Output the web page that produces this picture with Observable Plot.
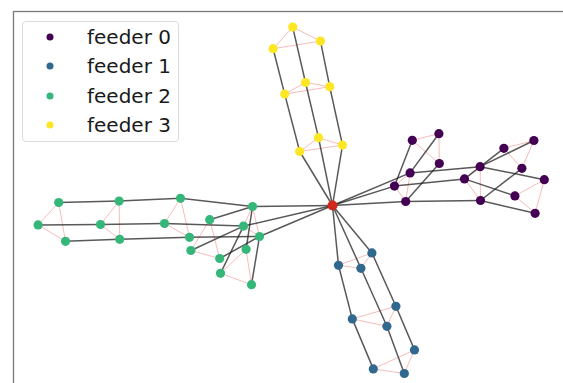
<!DOCTYPE html>
<html>
<head>
<meta charset="utf-8">
<script src="https://cdn.jsdelivr.net/npm/d3@7"></script>
<script src="https://cdn.jsdelivr.net/npm/@observablehq/plot@0.6"></script>
<style>
  html, body { margin: 0; padding: 0; background: white; }
  #wrap { position: relative; width: 563px; height: 383px; overflow: hidden; }
  #legend {
    position: absolute; left: 22px; top: 21px; width: 157px; height: 121px;
    box-sizing: border-box; border: 1px solid #dcdcdc; border-radius: 4px;
    background: rgba(255,255,255,0.85);
    font-family: "DejaVu Sans", sans-serif; font-size: 20px; color: #1a1a1a;
  }
  .row { position: absolute; left: 0; height: 28px; display: flex; align-items: center; }
  .row svg { margin-left: 23px; }
  .row span { margin-left: 33px; }
</style>
</head>
<body>
<div id="wrap"><div id="legend"></div></div>
<script>
// ---- data ----
const feeders = ["feeder 0", "feeder 1", "feeder 2", "feeder 3"];
const feederColors = ["#440154", "#31688e", "#35b779", "#fde725"];

const nodeNames = [
  "s",
  "p1a","p1b","p1c","p2a","p2b","p2c","p3a","p3b","p3c","p4a","p4b","p4c","p5a","p5b","p5c",
  "b1a","b1b","b1c","b2a","b2b","b2c","b3a","b3b","b3c",
  "g1a","g1b","g1c","g2a","g2b","g2c","g3a","g3b","g3c","g4a","g4b","g4c","g5a","g5b","g5c","g6a","g6b","g6c",
  "y1a","y1b","y1c","y2a","y2b","y2c","y3a","y3b","y3c"
];
const nodeX = [
  0,
  0.310,0.388,0.366,0.399,0.532,0.534,0.660,0.738,0.740,0.857,1.007,0.947,0.912,1.059,1.013,
  0.030,0.142,0.197,0.099,0.272,0.317,0.204,0.359,0.410,
  -0.400,-0.445,-0.365,-0.760,-0.840,-0.715,-1.067,-1.160,-1.064,-1.369,-1.472,-1.335,-0.614,-0.708,-0.564,-0.432,-0.560,-0.405,
  -0.164,-0.070,0.050,-0.239,-0.135,-0.014,-0.297,-0.199,-0.060
];
const nodeY = [
  0,
  0.097,0.163,0.020,0.326,0.359,0.210,0.133,0.194,0.025,0.286,0.325,0.186,0.048,0.129,-0.039,
  -0.299,-0.314,-0.237,-0.567,-0.604,-0.504,-0.817,-0.840,-0.722,
  -0.005,-0.103,-0.155,0.036,-0.090,-0.159,0.022,-0.095,-0.169,0.015,-0.097,-0.179,-0.071,-0.225,-0.265,-0.219,-0.339,-0.396,
  0.270,0.339,0.302,0.557,0.615,0.594,0.784,0.892,0.822
];
const nodeFeeder = [
  "substation",
  ...Array(15).fill("feeder 0"),
  ...Array(9).fill("feeder 1"),
  ...Array(18).fill("feeder 2"),
  ...Array(9).fill("feeder 3")
];

// black lines (tree)
const lineFrom = [
  "s","s","s","p1a","p1b","p1c","p1a","p1b","p1c","p3a","p3b","p3c","p3a","p3b","p3c",
  "s","s","s","b1a","b1b","b1c","b2a","b2b","b2c",
  "s","s","s","g1a","g1b","g1c","g2a","g2b","g2c","g3a","g3b","g3c","g1a","g1b","g1c","g1a","g1b","g1c",
  "s","s","s","y1a","y1b","y1c","y2a","y2b","y2c"
];
const lineTo = [
  "p1a","p1b","p1c","p2a","p2b","p2c","p3a","p3b","p3c","p4a","p4b","p4c","p5a","p5b","p5c",
  "b1a","b1b","b1c","b2a","b2b","b2c","b3a","b3b","b3c",
  "g1a","g1b","g1c","g2a","g2b","g2c","g3a","g3b","g3c","g4a","g4b","g4c","g5a","g5b","g5c","g6a","g6b","g6c",
  "y1a","y1b","y1c","y2a","y2b","y2c","y3a","y3b","y3c"
];
// pink links: triangles between the three laterals at each level
const ringGroups = [
  "p1","p2","p3","p4","p5","b1","b2","b3","g1","g2","g3","g4","g5","g6","y1","y2","y3"
];

// ---- build tables ----
const nodes = nodeNames.map((n, i) => ({name: n, x: nodeX[i], y: nodeY[i], feeder: nodeFeeder[i]}));
const byName = new Map(nodes.map(d => [d.name, d]));
const lines = lineFrom.map((f, i) => ({a: byName.get(f), b: byName.get(lineTo[i])}));
const rings = ringGroups.flatMap(g => [["a","b"],["b","c"],["a","c"]].map(([u, v]) => ({a: byName.get(g + u), b: byName.get(g + v)})));

const chart = Plot.plot({
  width: 563,
  height: 383,
  marginLeft: 13,
  marginTop: 11,
  marginRight: -6,
  marginBottom: -6,
  x: {domain: [-1.595, 1.185], axis: null},
  y: {domain: [-0.92, 0.97], axis: null},
  color: {type: "ordinal", domain: [...feeders, "substation"], range: [...feederColors, "#d1281c"]},
  marks: [
    Plot.frame({stroke: "#7a7a7a", strokeWidth: 1.3}),
    Plot.link(rings, {x1: d => d.a.x, y1: d => d.a.y, x2: d => d.b.x, y2: d => d.b.y, stroke: "#f2a6a6", strokeOpacity: 0.75, strokeWidth: 1}),
    Plot.link(lines, {x1: d => d.a.x, y1: d => d.a.y, x2: d => d.b.x, y2: d => d.b.y, stroke: "#222", strokeOpacity: 0.75, strokeWidth: 1.5}),
    Plot.dot(nodes.filter(d => d.feeder !== "substation"), {x: "x", y: "y", fill: "feeder", r: 4.6}),
    Plot.dot(nodes.filter(d => d.feeder === "substation"), {x: "x", y: "y", fill: "feeder", r: 5})
  ]
});
document.getElementById("wrap").prepend(chart);

// legend
const legend = document.getElementById("legend");
feeders.forEach((f, i) => {
  const row = document.createElement("div");
  row.className = "row";
  row.style.top = (1 + i * 29.3) + "px";
  row.innerHTML = `<svg width="8" height="8"><circle cx="4" cy="4" r="3.5" fill="${feederColors[i]}"/></svg><span>${f}</span>`;
  legend.appendChild(row);
});
</script>
</body>
</html>
